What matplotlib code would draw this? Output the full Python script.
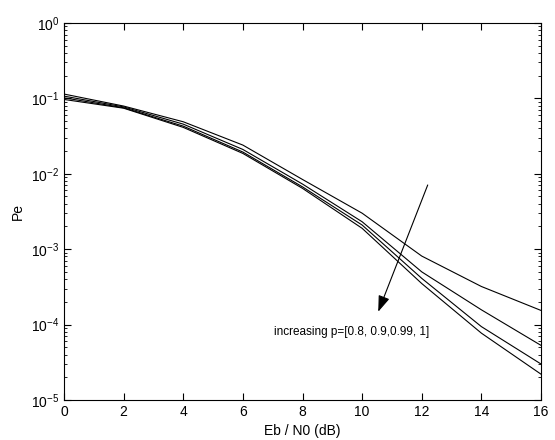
import matplotlib
matplotlib.use("Agg")
import matplotlib.pyplot as plt
from matplotlib.ticker import LogLocator, FixedLocator

plt.rcParams['font.family'] = ['Liberation Sans', 'DejaVu Sans']

ebn0 = [0, 2, 4, 6, 8, 10, 12, 14, 16]
pe_p080 = [0.114, 0.079, 0.0489, 0.024, 0.0084, 0.0030, 8.1e-4, 3.2e-4, 1.54e-4]
pe_p090 = [0.107, 0.077, 0.0455, 0.021, 0.0073, 0.00231, 5.0e-4, 1.57e-4, 5.3e-5]
pe_p099 = [0.1016, 0.075, 0.0428, 0.0194, 0.0067, 0.00209, 4.1e-4, 9.4e-5, 3.0e-5]
pe_p100 = [0.0967, 0.074, 0.0412, 0.0186, 0.0064, 0.00189, 3.5e-4, 7.7e-5, 2.2e-5]

fig = plt.figure(figsize=(5.55, 4.4), dpi=100)
ax = fig.add_axes([0.1153, 0.0909, 0.8595, 0.857])

for s in (pe_p080, pe_p090, pe_p099, pe_p100):
    ax.semilogy(ebn0, s, color='black', linewidth=0.8)

ax.set_xlim(0, 16)
ax.set_ylim(1e-5, 1)
ax.xaxis.set_major_locator(FixedLocator(ebn0))
ax.yaxis.set_major_locator(LogLocator(base=10, numticks=10))
ax.yaxis.set_minor_locator(LogLocator(base=10, subs=range(2, 10), numticks=10))
ax.tick_params(which='both', direction='in', top=True, right=True, labelsize=10)
ax.tick_params(which='major', length=5)
ax.tick_params(which='minor', length=2.5)
for sp in ax.spines.values():
    sp.set_linewidth(0.8)

ax.set_xlabel('Eb / N0 (dB)', fontsize=10)
ax.set_ylabel('Pe', fontsize=10)

ax.annotate('', xy=(10.54, 1.48e-4), xytext=(12.2, 7.1e-3),
            arrowprops=dict(arrowstyle='-|>,head_length=0.7,head_width=0.25',
                            color='black', lw=0.8,
                            mutation_scale=14, shrinkA=0, shrinkB=0))
ax.text(7.05, 8e-5, 'increasing p=[0.8, 0.9,0.99, 1]', fontsize=8.5,
        ha='left', va='center')

fig.savefig('out.png', dpi=100)
